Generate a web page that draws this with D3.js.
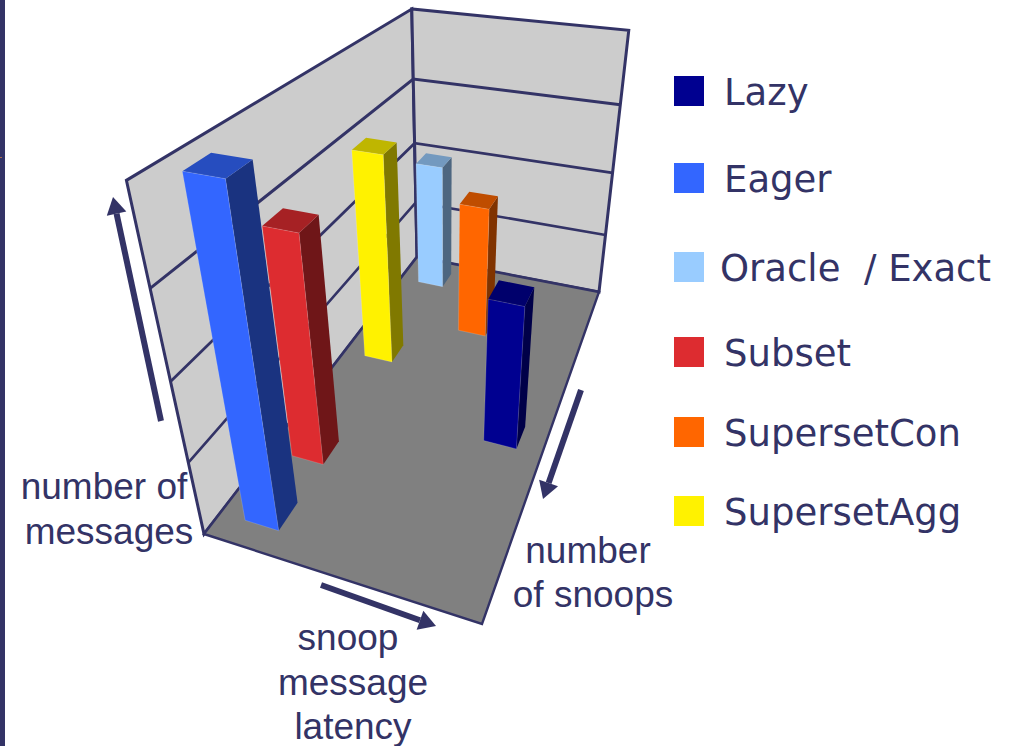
<!DOCTYPE html>
<html>
<head>
<meta charset="utf-8">
<style>
    body { margin: 0; background: #fff; }
    .legend-label { font-family: 'DejaVu Sans', sans-serif; font-size: 37px; fill: #333366; white-space: pre; }
    .note { font-family: 'Liberation Sans', Arial, sans-serif; font-size: 37px; fill: #333366; text-anchor: middle; }
</style>
</head>
<body>
<div class="chart-container"></div>
<script src="https://cdn.jsdelivr.net/npm/d3@7"></script>
<script>
// data
const seriesNames = ['Eager', 'Subset', 'Lazy', 'SupersetAgg', 'SupersetCon', 'Oracle / Exact']; // front to back
const latencyGroup = [0, 0, 2, 0, 1, 0];
const messageCount = [4, 3, 2, 3, 2, 2];
const seriesColors = ['#3366ff', '#dd2c30', '#000090', '#fff200', '#ff6600', '#99ccff'];
const latencyGroups = [0, 1, 2];
const messageTicks = [0, 1, 2, 3, 4];

const legendNames = ['Lazy', 'Eager', 'Oracle  / Exact', 'Subset', 'SupersetCon', 'SupersetAgg'];
const legendColors = ['#000090', '#3366ff', '#99ccff', '#dd2c30', '#ff6600', '#fff200'];
const legendTops = [76, 163, 252, 337, 417, 496];
const legendTextX = [724, 724, 720, 724, 724, 724];

const width = 1015;
const height = 746;

// screen position of the box that holds the chart
const floorLeft = [204, 534];
const floorFront = [482, 624];
const floorRight = [599, 292];
const floorBack = [417, 257];
const backTopY = 9;
const verticalVanish = [446, 1637]; // upright edges all meet here

// homography taking the unit square to the floor quad
function floorMatrix(p0, p1, p2, p3) {
    const dx1 = p1[0] - p2[0];
    const dx2 = p3[0] - p2[0];
    const sx = p0[0] - p1[0] + p2[0] - p3[0];
    const dy1 = p1[1] - p2[1];
    const dy2 = p3[1] - p2[1];
    const sy = p0[1] - p1[1] + p2[1] - p3[1];
    const det = dx1 * dy2 - dx2 * dy1;
    const g = (sx * dy2 - dx2 * sy) / det;
    const h = (dx1 * sy - sx * dy1) / det;
    return [
        [p1[0] - p0[0] + g * p1[0], p3[0] - p0[0] + h * p3[0], p0[0]],
        [p1[1] - p0[1] + g * p1[1], p3[1] - p0[1] + h * p3[1], p0[1]],
        [g, h, 1]
    ];
}

const H = floorMatrix(floorLeft, floorFront, floorRight, floorBack);
const floorPoint = (u, v) => H.map(r => r[0] * u + r[1] * v + r[2]);

// weight of the vertical axis, set so the back corner reaches its top
const backWeight = floorPoint(0, 1)[2];
const lift = backWeight * (floorBack[1] - backTopY) / (backTopY - verticalVanish[1]);

function project(u, v, w) {
    const p = floorPoint(u, v);
    const d = p[2] + w * lift;
    return [
        (p[0] + w * lift * verticalVanish[0]) / d,
        (p[1] + w * lift * verticalVanish[1]) / d
    ];
}

// scales
const xScale = d3.scaleBand()
    .domain(latencyGroups)
    .range([0, 1])
    .paddingInner(0.6)
    .paddingOuter(0.3);

const yScale = d3.scaleBand()
    .domain(seriesNames)
    .range([0, 1])
    .paddingInner(0.6)
    .paddingOuter(0.3);

const zScale = d3.scaleLinear()
    .domain(d3.extent(messageTicks))
    .range([0, 1]);

const toPath = d3.line();
const face = pts => toPath(pts.map(p => project(...p))) + 'Z';

// draw base
const svg = d3.select('.chart-container')
    .append('svg')
    .attr('width', width)
    .attr('height', height)
    .style('display', 'block');

svg.append('rect')
    .attr('width', 5)
    .attr('height', height)
    .attr('fill', '#333366');

svg.append('rect')
    .attr('y', 157)
    .attr('width', 2)
    .attr('height', 1)
    .attr('fill', '#a86a4a');

// walls and floor
const ink = '#333366';

svg.append('path')
    .attr('d', face([[0, 0, 0], [0, 1, 0], [0, 1, 1], [0, 0, 1]]))
    .attr('fill', '#cccccc')
    .attr('stroke', ink)
    .attr('stroke-width', 3);

svg.append('path')
    .attr('d', face([[0, 1, 0], [1, 1, 0], [1, 1, 1], [0, 1, 1]]))
    .attr('fill', '#cccccc')
    .attr('stroke', ink)
    .attr('stroke-width', 3);

const gridTicks = messageTicks.filter(d => d > 0 && d < 4);

svg.append('g')
    .attr('class', 'grid')
    .selectAll('path')
    .data(gridTicks)
    .enter()
    .append('path')
    .attr('d', d => {
        const w = zScale(d);
        return toPath([[0, 0, w], [0, 1, w], [1, 1, w]].map(p => project(...p)));
    })
    .attr('fill', 'none')
    .attr('stroke', ink)
    .attr('stroke-width', d => 2.4 + d * 0.2); // lines get heavier towards the viewer

svg.append('path')
    .attr('d', face([[0, 0, 0], [1, 0, 0], [1, 1, 0], [0, 1, 0]]))
    .attr('fill', '#808080')
    .attr('stroke', ink)
    .attr('stroke-width', 2.4);

// bars, far ones first
const bars = seriesNames
    .map((name, i) => ({
        name,
        color: seriesColors[i],
        u0: xScale(latencyGroup[i]),
        u1: xScale(latencyGroup[i]) + xScale.bandwidth(),
        v0: yScale(name),
        v1: yScale(name) + yScale.bandwidth(),
        w: zScale(messageCount[i])
    }))
    .sort((a, b) => project(a.u1, a.v0, 0)[1] - project(b.u1, b.v0, 0)[1]);

const shade = (color, k) => {
    const c = d3.rgb(color);
    return d3.rgb(c.r * k, c.g * k, c.b * k).formatHex();
};

const barGroups = svg.append('g')
    .attr('class', 'bars')
    .selectAll('g')
    .data(bars)
    .enter()
    .append('g');

barGroups.append('path')
    .attr('d', d => face([[d.u1, d.v0, 0], [d.u1, d.v1, 0], [d.u1, d.v1, d.w], [d.u1, d.v0, d.w]]))
    .attr('fill', d => shade(d.color, 0.5));

barGroups.append('path')
    .attr('d', d => face([[d.u0, d.v0, d.w], [d.u1, d.v0, d.w], [d.u1, d.v1, d.w], [d.u0, d.v1, d.w]]))
    .attr('fill', d => shade(d.color, 0.75));

barGroups.append('path')
    .attr('d', d => face([[d.u0, d.v0, 0], [d.u1, d.v0, 0], [d.u1, d.v0, d.w], [d.u0, d.v0, d.w]]))
    .attr('fill', d => d.color)
    .attr('stroke', 'rgba(255,255,255,0.25)')
    .attr('stroke-width', 0.6);

// direction arrows
function drawArrow(tail, tip) {
    const angle = Math.atan2(tip[1] - tail[1], tip[0] - tail[0]);
    const ux = Math.cos(angle);
    const uy = Math.sin(angle);
    const neck = [tip[0] - ux * 17, tip[1] - uy * 17];
    const g = svg.append('g').attr('class', 'arrow');

    g.append('line')
        .attr('x1', tail[0])
        .attr('y1', tail[1])
        .attr('x2', neck[0])
        .attr('y2', neck[1])
        .attr('stroke', ink)
        .attr('stroke-width', 6);

    g.append('path')
        .attr('d', toPath([
            tip,
            [neck[0] - uy * 10, neck[1] + ux * 10],
            [neck[0] + uy * 10, neck[1] - ux * 10]
        ]) + 'Z')
        .attr('fill', ink);
}

drawArrow([161, 421], [113, 197]);
drawArrow([321, 585], [436, 626]);
drawArrow([581, 390], [543, 499]);

// axis notes
const notes = [
    { text: 'number of', x: 104, y: 499 },
    { text: 'messages', x: 109, y: 544 },
    { text: 'number', x: 588, y: 563 },
    { text: 'of snoops', x: 593, y: 607 },
    { text: 'snoop', x: 348, y: 650 },
    { text: 'message', x: 353, y: 695 },
    { text: 'latency', x: 353, y: 739 }
];

svg.append('g')
    .selectAll('text')
    .data(notes)
    .enter()
    .append('text')
    .attr('class', 'note')
    .attr('x', d => d.x)
    .attr('y', d => d.y)
    .text(d => d.text);

// legend
const legend = svg.append('g')
    .attr('class', 'legend')
    .selectAll('g')
    .data(legendNames)
    .enter()
    .append('g');

legend.append('rect')
    .attr('x', 674)
    .attr('y', (d, i) => legendTops[i])
    .attr('width', 30)
    .attr('height', 30)
    .attr('fill', (d, i) => legendColors[i]);

legend.append('text')
    .attr('class', 'legend-label')
    .attr('x', (d, i) => legendTextX[i])
    .attr('y', (d, i) => legendTops[i] + 29)
    .text(d => d);
</script>
</body>
</html>
